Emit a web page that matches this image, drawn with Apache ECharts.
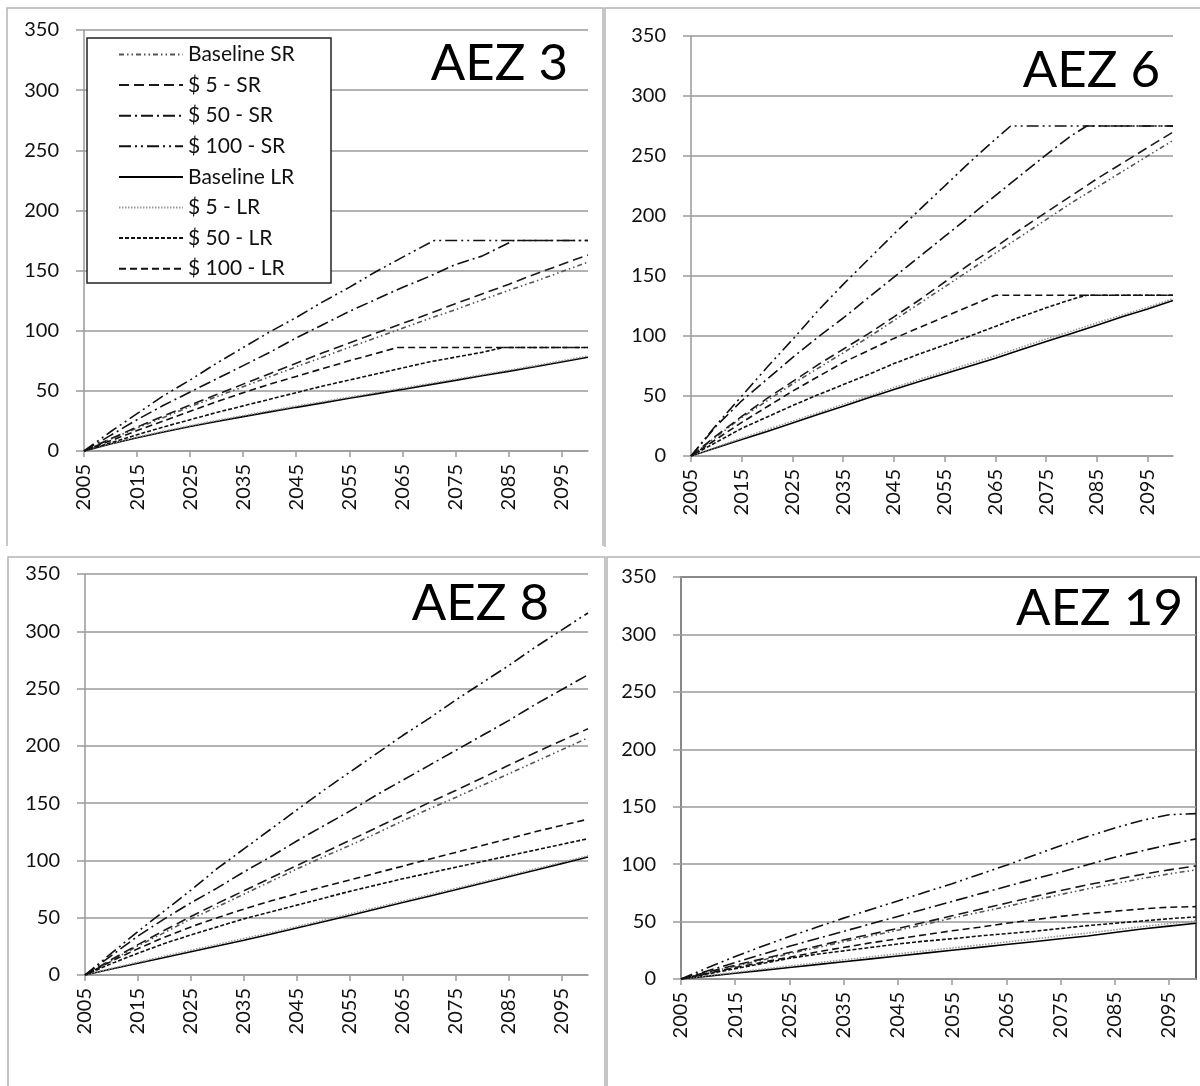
<!DOCTYPE html>
<html><head><meta charset="utf-8">
<script src="https://cdn.jsdelivr.net/npm/echarts@6/dist/echarts.min.js"></script>
<style>html,body{margin:0;padding:0;background:#fff}#c{width:1200px;height:1086px}</style>
</head><body><div id="c"></div><script>
// ---------- labels ----------
const SERIES_NAMES = ['Baseline SR', '$ 5 - SR', '$ 50 - SR', '$ 100 - SR', 'Baseline LR', '$ 5 - LR', '$ 50 - LR', '$ 100 - LR'];
const PANEL_TITLES = ['AEZ 3', 'AEZ 6', 'AEZ 8', 'AEZ 19'];
const YEARS = [2005, 2010, 2015, 2020, 2025, 2030, 2035, 2040, 2045, 2050, 2055, 2060, 2065, 2070, 2075, 2080, 2085, 2090, 2095, 2100];
const X_TICKS = [2005, 2015, 2025, 2035, 2045, 2055, 2065, 2075, 2085, 2095];
const Y_MIN = 0, Y_MAX = 350, Y_STEP = 50;

// ---------- AEZ 3 ----------
const aez3_baseSR = [0, 9.8, 19.1, 27.9, 36.8, 45.1, 53.4, 61.7, 70, 78, 86.2, 94, 102, 110, 117.5, 125.5, 133.5, 141, 149, 157];
const aez3_sr5 = [0, 10.2, 19.9, 29.1, 38.2, 46.9, 55.6, 64.3, 73, 81.6, 89.8, 98, 106, 114, 122.5, 130.5, 138.5, 147, 155, 163];
const aez3_sr50 = [[2005, 0], [2010, 13], [2015, 26], [2020, 38], [2025, 49], [2030, 60], [2035, 71], [2040, 82], [2045, 94], [2050, 105], [2055, 116], [2060, 126], [2065, 136], [2070, 145], [2075, 155], [2080, 162], [2086, 175], [2090, 175], [2095, 175], [2100, 175]];
const aez3_sr100 = [[2005, 0], [2010, 16], [2015, 31], [2020, 46], [2025, 59], [2030, 73], [2035, 86], [2040, 99], [2045, 111], [2050, 124], [2055, 136], [2060, 149], [2065, 161], [2071, 175], [2075, 175], [2080, 175], [2085, 175], [2090, 175], [2095, 175], [2100, 175]];
const aez3_baseLR = [0, 5.8, 11, 15.8, 20.3, 24.5, 28.6, 32.5, 36.3, 40, 43.8, 47.5, 51.2, 55, 58.7, 62.5, 66.2, 70, 74, 78];
const aez3_lr5 = [0, 6.2, 11.6, 16.5, 21.1, 25.4, 29.5, 33.4, 37.3, 41, 44.8, 48.5, 52.2, 56, 59.7, 63.5, 67.2, 71, 75, 79];
const aez3_lr50 = [[2005, 0], [2010, 6.8], [2015, 13.5], [2020, 20], [2025, 26], [2030, 32], [2035, 37.5], [2040, 43], [2045, 48.5], [2050, 54], [2055, 59], [2060, 64], [2065, 69], [2070, 74], [2075, 78], [2080, 82], [2084, 86], [2090, 86], [2095, 86], [2100, 86]];
const aez3_lr100 = [[2005, 0], [2010, 8.5], [2015, 17], [2020, 25], [2025, 33], [2030, 41], [2035, 48.5], [2040, 55.5], [2045, 62], [2050, 68.5], [2055, 75], [2060, 81], [2064, 86], [2070, 86], [2075, 86], [2080, 86], [2085, 86], [2090, 86], [2095, 86], [2100, 86]];

// ---------- AEZ 6 ----------
const aez6_baseSR = [0, 16, 32, 46, 60, 73, 86, 99, 113, 127, 141, 155, 169, 183, 197, 211, 224, 237, 250, 263];
const aez6_sr5 = [0, 17, 33, 48, 62, 76, 89, 102, 116, 130, 145, 160, 174, 189, 203, 217, 231, 244, 257, 270];
const aez6_sr50 = [[2005, 0], [2010, 25], [2015, 46], [2020, 64], [2025, 82], [2030, 99], [2035, 115], [2040, 132], [2045, 149], [2050, 166], [2055, 183], [2060, 200], [2065, 217], [2070, 234], [2075, 251], [2080, 267], [2083, 275], [2090, 275], [2095, 275], [2100, 275]];
const aez6_sr100 = [[2005, 0], [2010, 26], [2015, 50], [2020, 74], [2025, 97], [2030, 121], [2035, 143], [2040, 164], [2045, 185], [2050, 205], [2055, 225], [2060, 245], [2065, 264], [2068, 275], [2075, 275], [2080, 275], [2085, 275], [2090, 275], [2095, 275], [2100, 275]];
const aez6_baseLR = [0, 6.8, 13.7, 20.5, 27.5, 34.5, 41.5, 48.5, 55.5, 62, 68.5, 75, 81.5, 88.5, 95.5, 102, 109, 116, 122.5, 129.5];
const aez6_lr5 = [0, 7.5, 14.8, 22, 29, 36, 43, 50, 57, 63.8, 70.3, 77, 83.5, 90.5, 97.5, 104, 111, 117.5, 124, 131];
const aez6_lr50 = [[2005, 0], [2010, 11.5], [2015, 23], [2020, 32.5], [2025, 42], [2030, 51], [2035, 59.5], [2040, 68], [2045, 77], [2050, 85], [2055, 92.5], [2060, 100], [2065, 108], [2070, 116], [2075, 123.5], [2080, 130.5], [2083, 134], [2090, 134], [2095, 134], [2100, 134]];
const aez6_lr100 = [[2005, 0], [2010, 14], [2015, 28], [2020, 41], [2025, 54], [2030, 66], [2035, 78], [2040, 88], [2045, 98], [2050, 107], [2055, 116], [2060, 125], [2065, 134], [2070, 134], [2075, 134], [2080, 134], [2085, 134], [2090, 134], [2095, 134], [2100, 134]];

// ---------- AEZ 8 ----------
const aez8_baseSR = [0, 12.5, 25.5, 37, 49, 59.5, 70.5, 81.5, 92.5, 103, 113, 123.5, 134.5, 145, 155, 165.5, 175.5, 186, 196.5, 207];
const aez8_sr5 = [0, 13.5, 26.5, 39, 51, 62.5, 73.5, 84.5, 95.5, 106.5, 117.5, 128.5, 139.5, 150.5, 161, 172, 183, 194, 204.5, 215];
const aez8_sr50 = [0, 17, 34, 49, 63, 76, 90, 103, 117, 130, 143, 157, 170, 183, 196, 209, 222, 236, 249, 262];
const aez8_sr100 = [0, 19, 38, 56, 74, 93, 110, 127, 144, 161, 177, 193, 209, 224, 240, 255, 270, 286, 301, 316];
const aez8_baseLR = [0, 5.2, 10.3, 15.3, 20.3, 25.3, 30.4, 35.6, 41, 46.5, 52, 57.6, 63.2, 68.8, 74.4, 80, 85.7, 91.4, 97.2, 103];
const aez8_lr5 = [0, 5.8, 11.2, 16.5, 21.6, 26.7, 31.8, 37, 42.3, 47.8, 53.3, 58.9, 64.5, 70, 75.6, 81.2, 86.9, 92.6, 98.3, 104];
const aez8_lr50 = [0, 10, 19, 27.5, 35, 42, 49, 55, 61, 67, 73, 78.5, 84, 89, 94, 99, 104, 109, 114, 119];
const aez8_lr100 = [0, 12, 23, 33, 42, 50, 57.5, 64.5, 71, 77, 83, 89, 95, 101, 107, 113, 119, 125, 130.5, 136];

// ---------- AEZ 19 ----------
const aez19_baseSR = [0, 5.8, 11.2, 16.5, 22, 27.2, 32.5, 37.5, 42.5, 47.5, 53, 58, 63, 68.5, 73.5, 78.5, 83, 87.5, 91.5, 95];
const aez19_sr5 = [0, 6.2, 12, 17.5, 23, 28.5, 34, 39, 44, 49.5, 55, 60.5, 66, 71.5, 77, 82, 86.5, 91, 95, 98.5];
const aez19_sr50 = [0, 7.2, 14.3, 21.5, 28.5, 35, 41.5, 48, 54.5, 61, 67.5, 74, 80.5, 87, 93, 99.5, 106, 111.5, 117, 122];
const aez19_sr100 = [0, 10, 19.5, 28.5, 37, 45, 53, 60.5, 68, 75.5, 83, 91, 99, 107.5, 116, 124, 131.5, 138, 143, 144];
const aez19_baseLR = [0, 2.5, 5, 7.5, 10, 12.5, 15, 17.5, 20, 22.5, 25, 27.5, 30, 32.5, 35, 37.5, 40.5, 43.5, 46, 48.5];
const aez19_lr5 = [0, 3, 5.8, 8.6, 11.3, 14, 16.7, 19.3, 21.9, 24.5, 27, 29.6, 32.2, 34.8, 37.4, 40, 42.8, 45.6, 48.2, 50.5];
const aez19_lr50 = [0, 4.5, 9, 13.5, 18, 21.5, 24.5, 27.5, 30.5, 33, 35, 37.5, 39.5, 41.5, 44, 46.5, 48.5, 50.5, 52.5, 54];
const aez19_lr100 = [0, 5, 10, 14.5, 19, 23.5, 27.5, 31.5, 35, 38.5, 42, 45, 48.5, 51.5, 54.5, 57, 59, 61, 62.5, 63];

// ---------- build ----------
const PANEL_DATA = [
  [aez3_baseSR, aez3_sr5, aez3_sr50, aez3_sr100, aez3_baseLR, aez3_lr5, aez3_lr50, aez3_lr100],
  [aez6_baseSR, aez6_sr5, aez6_sr50, aez6_sr100, aez6_baseLR, aez6_lr5, aez6_lr50, aez6_lr100],
  [aez8_baseSR, aez8_sr5, aez8_sr50, aez8_sr100, aez8_baseLR, aez8_lr5, aez8_lr50, aez8_lr100],
  [aez19_baseSR, aez19_sr5, aez19_sr50, aez19_sr100, aez19_baseLR, aez19_lr5, aez19_lr50, aez19_lr100]
];
const LINE_STYLES = [
  { color: '#555', width: 1.6, type: [5, 3, 1.5, 3, 1.5, 3] },
  { color: '#1a1a1a', width: 1.6, type: [10, 5] },
  { color: '#111', width: 1.6, type: [12, 4, 2, 4] },
  { color: '#111', width: 1.6, type: [12, 4, 2, 4, 2, 4] },
  { color: '#000', width: 1.6, type: 'solid' },
  { color: '#999', width: 1.6, type: [1.5, 1.5] },
  { color: '#111', width: 1.6, type: [4, 2] },
  { color: '#111', width: 1.6, type: [7, 4] }
];
const GRIDS = [
  { left: 84, top: 30, width: 504, height: 421 },
  { left: 691, top: 36, width: 482, height: 420 },
  { left: 85, top: 574, width: 503, height: 401 },
  { left: 681, top: 577, width: 515, height: 402, show: true, borderColor: '#222', borderWidth: 1.5 }
];
const TITLE_POS = [
  { right: 632, top: 38 }, { right: 40, top: 45 }, { right: 651, top: 578 }, { right: 17, top: 583 }
];
const FONT = 'Lato, "Open Sans", sans-serif';
const AX = '#9a9a9a';

function toPairs(d) {
  return d.map((v, i) => Array.isArray(v) ? v : [YEARS[i], v]);
}

const grid = [], xAxis = [], yAxis = [], series = [], title = [];
for (let p = 0; p < 4; p++) {
  grid.push(Object.assign({ containLabel: false }, GRIDS[p]));
  xAxis.push({
    type: 'value', gridIndex: p, min: 2005, max: 2100,
    axisLine: { show: true, onZero: false, lineStyle: { color: AX, width: 1.5 } },
    axisTick: { show: true, length: 6, customValues: X_TICKS, lineStyle: { color: AX, width: 1.5 } },
    axisLabel: { customValues: X_TICKS, formatter: v => String(v), rotate: 90, margin: 13, fontSize: 20, fontFamily: FONT, color: '#111' },
    splitLine: { show: false }
  });
  yAxis.push({
    type: 'value', gridIndex: p, min: Y_MIN, max: Y_MAX, interval: Y_STEP,
    axisLine: { show: true, lineStyle: { color: AX, width: 1.5 } },
    axisTick: { show: true, length: 8, lineStyle: { color: AX, width: 1.5 } },
    axisLabel: { margin: 25, fontSize: 20, fontFamily: FONT, color: '#111' },
    splitLine: { show: true, lineStyle: { color: AX, width: 1.5 } }
  });
  title.push(Object.assign({
    text: PANEL_TITLES[p], padding: 0,
    textStyle: { fontSize: 51, fontWeight: 'normal', fontFamily: FONT, color: '#000' }
  }, TITLE_POS[p]));
  for (let s = 0; s < 8; s++) {
    series.push({
      name: SERIES_NAMES[s], type: 'line', xAxisIndex: p, yAxisIndex: p,
      data: toPairs(PANEL_DATA[p][s]), symbol: 'none', silent: true, animation: false,
      lineStyle: LINE_STYLES[s], itemStyle: { color: LINE_STYLES[s].color }, z: 2
    });
  }
}

const chart = echarts.init(document.getElementById('c'), null, { renderer: 'canvas' });
chart.setOption({
  backgroundColor: '#fff',
  animation: false,
  title, grid, xAxis, yAxis, series,
  legend: {
    data: SERIES_NAMES, orient: 'vertical', left: 118, top: 44, padding: 0,
    itemWidth: 64, itemHeight: 14, itemGap: 9.6, selectedMode: false, z: 101,
    itemStyle: { opacity: 0, color: 'transparent', borderWidth: 0 },
    textStyle: { fontSize: 21, lineHeight: 21, fontFamily: FONT, color: '#111' }
  },
  graphic: [
    { type: 'polyline', z: 50, silent: true, shape: { points: [[7, 546], [7, 8], [603, 8], [603, 546]] }, style: { stroke: '#b4b4b4', lineWidth: 1.5, fill: null } },
    { type: 'polyline', z: 50, silent: true, shape: { points: [[605, 547], [605, 8], [1200, 8]] }, style: { stroke: '#b4b4b4', lineWidth: 1.5, fill: null } },
    { type: 'polyline', z: 50, silent: true, shape: { points: [[8, 1086], [8, 557], [605, 557], [605, 1086]] }, style: { stroke: '#b4b4b4', lineWidth: 1.5, fill: null } },
    { type: 'polyline', z: 50, silent: true, shape: { points: [[607, 1086], [607, 557], [1200, 557]] }, style: { stroke: '#b4b4b4', lineWidth: 1.5, fill: null } },
    { type: 'rect', z: 100, silent: true, shape: { x: 87, y: 38, width: 244, height: 245 }, style: { fill: '#fff', stroke: '#222', lineWidth: 1.5 } }
  ]
});
</script></body></html>
